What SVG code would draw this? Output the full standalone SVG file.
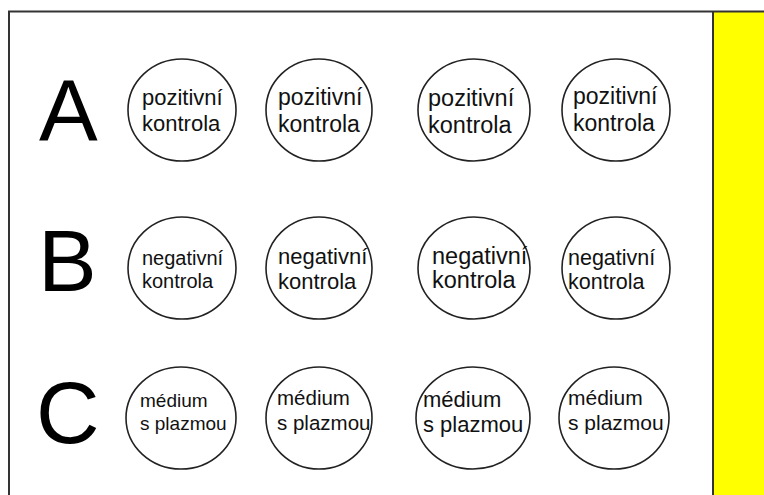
<svg xmlns="http://www.w3.org/2000/svg" width="764" height="495" viewBox="0 0 764 495">
<style>
.frame{stroke:#333;stroke-width:2;fill:none}
.well{fill:#fff;stroke:#222;stroke-width:1.6}
.row{font-family:"Liberation Sans",Arial,sans-serif;font-size:88px;fill:#000}
.t{font-family:"Liberation Sans",Arial,sans-serif;fill:#111}
</style>
<rect x="0" y="0" width="764" height="495" fill="#fff"/>
<rect x="714" y="12" width="50" height="483" fill="#ffff00"/>
<g id="frame">
<line class="frame" x1="8" y1="11.5" x2="764" y2="11.5"/>
<line class="frame" x1="9" y1="11" x2="9" y2="495"/>
<line class="frame" x1="713" y1="11" x2="713" y2="495"/>
</g>
<g id="labels">
<text class="row" x="39" y="141">A</text>
<text class="row" x="38" y="291">B</text>
<text class="row" x="36" y="443">C</text>
</g>
<g id="A1"><ellipse class="well" cx="182" cy="110" rx="54" ry="51"/><text class="t" font-size="22" x="142" y="105">pozitivní</text><text class="t" font-size="22" x="142" y="131">kontrola</text></g>
<g id="A2"><ellipse class="well" cx="319" cy="110" rx="53" ry="51"/><text class="t" font-size="23" x="278" y="105">pozitivní</text><text class="t" font-size="23" x="278" y="132">kontrola</text></g>
<g id="A3"><ellipse class="well" cx="474" cy="110" rx="56" ry="51"/><text class="t" font-size="23.5" x="428" y="106">pozitivní</text><text class="t" font-size="23.5" x="428" y="133">kontrola</text></g>
<g id="A4"><ellipse class="well" cx="616" cy="110" rx="54" ry="51"/><text class="t" font-size="23" x="573" y="104">pozitivní</text><text class="t" font-size="23" x="573" y="131">kontrola</text></g>
<g id="B1"><ellipse class="well" cx="182" cy="268" rx="54" ry="51"/><text class="t" font-size="20" x="142" y="265">negativní</text><text class="t" font-size="20" x="142" y="288">kontrola</text></g>
<g id="B2"><ellipse class="well" cx="319" cy="268" rx="53" ry="51"/><text class="t" font-size="22" x="278" y="264">negativní</text><text class="t" font-size="22" x="278" y="289">kontrola</text></g>
<g id="B3"><ellipse class="well" cx="474" cy="268" rx="56" ry="51"/><text class="t" font-size="23.5" x="432" y="264">negativní</text><text class="t" font-size="23.5" x="432" y="288">kontrola</text></g>
<g id="B4"><ellipse class="well" cx="616" cy="268" rx="54" ry="51"/><text class="t" font-size="21.5" x="568" y="265">negativní</text><text class="t" font-size="21.5" x="568" y="289">kontrola</text></g>
<g id="C1"><ellipse class="well" cx="181" cy="418" rx="55" ry="51"/><text class="t" font-size="19" x="140" y="407">médium</text><text class="t" font-size="19" x="140" y="430">s plazmou</text></g>
<g id="C2"><ellipse class="well" cx="319" cy="418" rx="53" ry="51"/><text class="t" font-size="20.5" x="277" y="405">médium</text><text class="t" font-size="20.5" x="277" y="430">s plazmou</text></g>
<g id="C3"><ellipse class="well" cx="473" cy="418" rx="57" ry="51"/><text class="t" font-size="22" x="423" y="407">médium</text><text class="t" font-size="22" x="423" y="432">s plazmou</text></g>
<g id="C4"><ellipse class="well" cx="614" cy="418" rx="55" ry="51"/><text class="t" font-size="21" x="568" y="405">médium</text><text class="t" font-size="21" x="568" y="430">s plazmou</text></g>
</svg>
